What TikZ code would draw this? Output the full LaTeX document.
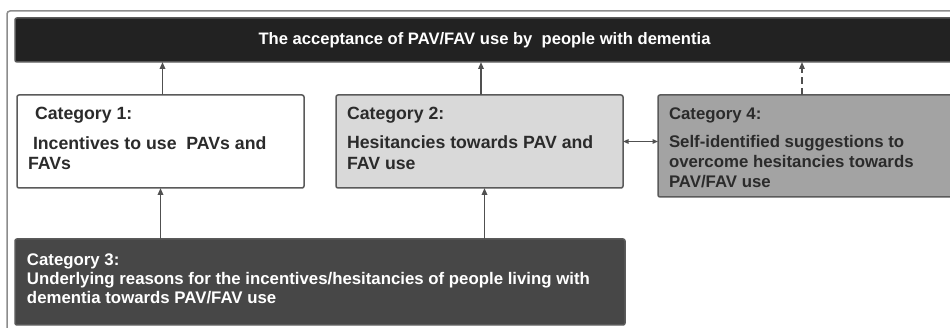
\documentclass[tikz,border=0pt]{standalone}
\usepackage{fontspec}
\setmainfont{Liberation Sans}
\usetikzlibrary{arrows.meta}
\definecolor{framec}{HTML}{8C8C8C}
\definecolor{edgec}{HTML}{5A5A5A}
\definecolor{barc}{HTML}{222222}
\definecolor{catone}{HTML}{FFFFFF}
\definecolor{cattwo}{HTML}{D9D9D9}
\definecolor{catfour}{HTML}{A3A3A3}
\definecolor{catthree}{HTML}{474747}
\definecolor{txtdark}{HTML}{2B2B2B}
\definecolor{arrowc}{HTML}{505050}
\tikzset{
  boxshape/.style={draw=edgec, line width=1.5pt, rounded corners=2pt, inner sep=0pt, outer sep=0pt, anchor=north west},
  lbl/.style={anchor=base west, inner sep=0pt, outer sep=0pt, font=\bfseries\fontsize{16.8}{20}\selectfont},
  biglbl/.style={lbl, font=\bfseries\fontsize{17.7}{21}\selectfont},
  darklbl/.style={lbl, text=txtdark},
  lightlbl/.style={lbl, text=white},
  arr/.style={draw=arrowc, line width=1.6pt, -{Triangle[length=7pt,width=5.5pt]}},
  dblarr/.style={draw=arrowc, line width=1.3pt, {Triangle[length=5.5pt,width=4.5pt]}-{Triangle[length=5.5pt,width=4.5pt]}},
}
\begin{document}
\begin{tikzpicture}[x=1pt,y=-1pt]
\useasboundingbox (0,0) rectangle (950,328);
\clip (0,0) rectangle (950,328);
\fill[white] (0,0) rectangle (950,328);
% outer frame
\draw[framec, line width=1.5pt, rounded corners=3pt] (7,11) rectangle (1000,400);
% top bar
\node[boxshape, draw=gray!70!black, fill=barc, minimum width=980pt, minimum height=44pt] (bar) at (15,18) {};
\node[anchor=base, inner sep=0pt, font=\bfseries\fontsize{16.6}{20}\selectfont, text=white] (title) at (484.5,45) {The acceptance of PAV/FAV use by\ \ people with dementia};
% category boxes
\node[boxshape, fill=catone, minimum width=287pt, minimum height=93pt] (c1) at (17,95) {};
\node[boxshape, fill=cattwo, minimum width=287pt, minimum height=93pt] (c2) at (336,95) {};
\node[boxshape, fill=catfour, minimum width=330pt, minimum height=102pt] (c4) at (658,95) {};
\node[boxshape, fill=catthree, minimum width=610pt, minimum height=86pt] (c3) at (15,239) {};
% texts
\node[darklbl, biglbl] (c1a) at (35,120) {Category 1:};
\node[darklbl, biglbl] (c1b) at (33,149.5) {Incentives to use\ \ PAVs and};
\node[darklbl, biglbl] (c1c) at (28,170) {FAVs};
\node[darklbl, biglbl] (c2a) at (347,120) {Category 2:};
\node[darklbl, biglbl] (c2b) at (347,149) {Hesitancies towards PAV and};
\node[darklbl, biglbl] (c2c) at (347,170) {FAV use};
\node[darklbl] (c4a) at (669,119.5) {Category 4:};
\node[darklbl] (c4b) at (669,147.5) {Self-identified suggestions to};
\node[darklbl] (c4c) at (669,168) {overcome hesitancies towards};
\node[darklbl] (c4d) at (669,188) {PAV/FAV use};
\node[lightlbl] (c3a) at (27,265.5) {Category 3:};
\node[lightlbl] (c3b) at (27,285) {Underlying reasons for the incentives/hesitancies of people living with};
\node[lightlbl] (c3c) at (27,304) {dementia towards PAV/FAV use};
% connectors
\coordinate (d4) at ([xshift=144pt]c4.north west);
\coordinate (t1) at ([xshift=2pt]c1.north);
\coordinate (t2) at ([xshift=1.5pt]c2.north);
\coordinate (u2) at ([xshift=5pt]c2.south);
\draw[arr] (t1) -- (t1 |- bar.south);
\draw[arr] (t2) -- (t2 |- bar.south);
\draw[arr, line width=1.3pt, dash pattern=on 7pt off 4pt] (d4) -- (d4 |- bar.south);
\draw[arr] (c1.south |- c3.north) -- (c1.south);
\draw[arr] (u2 |- c3.north) -- (u2);
\draw[dblarr] (c2.east) -- (c4.west |- c2.east);
\end{tikzpicture}
\end{document}
